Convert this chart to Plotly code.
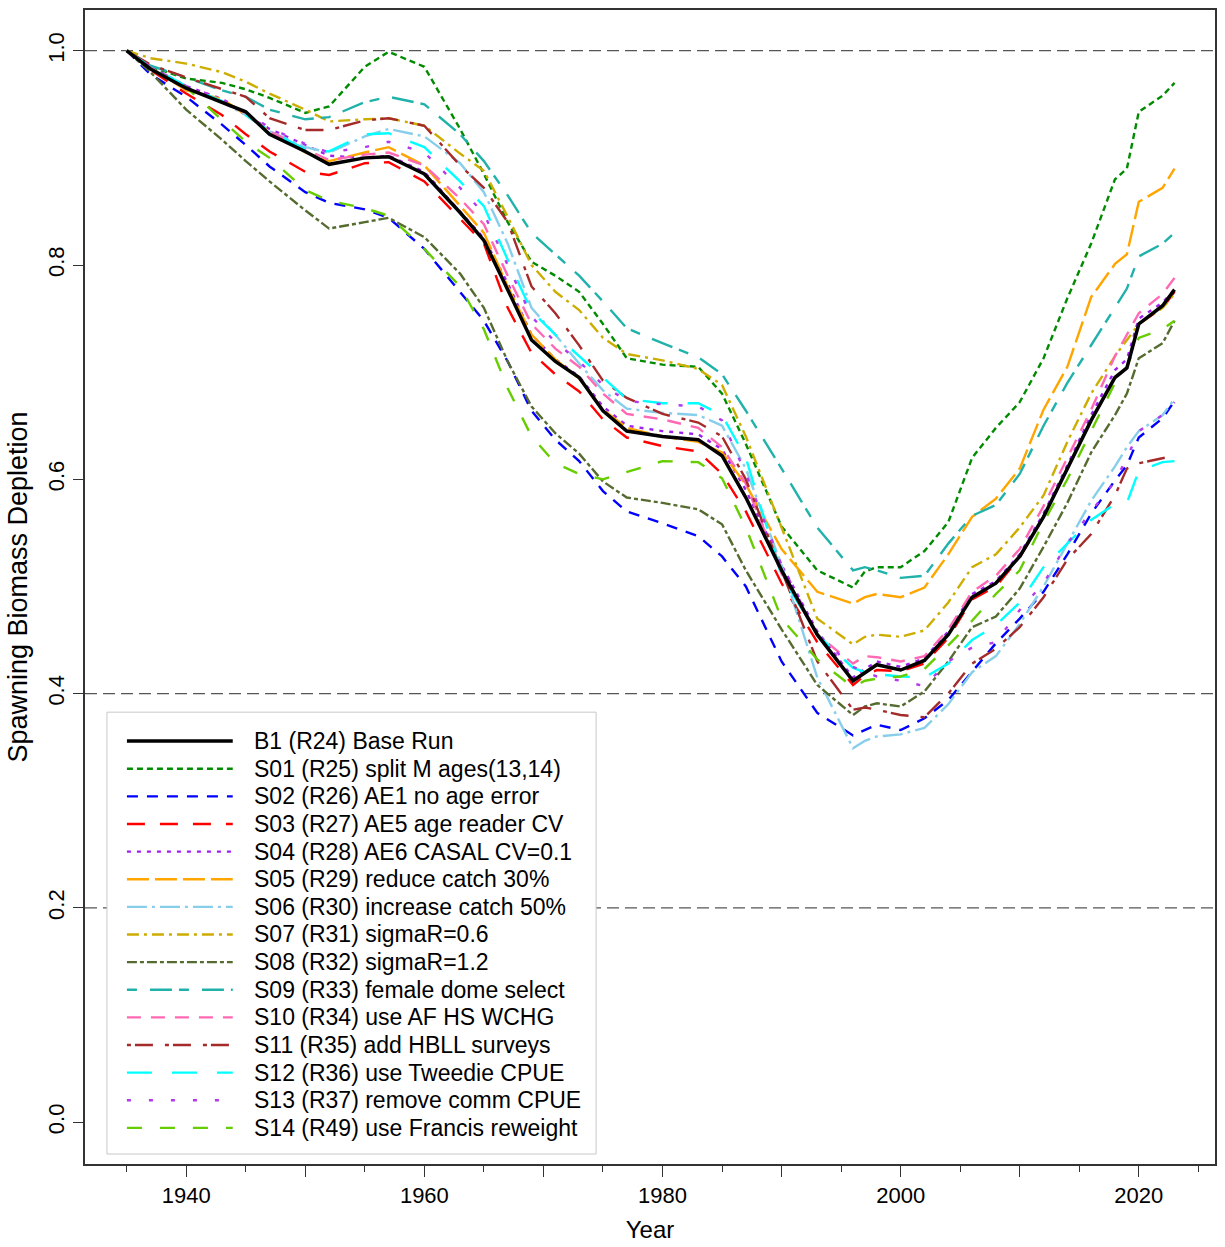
import plotly.graph_objects as go

# Assessment years at which each run's trajectory is plotted
years = [1935, 1937, 1940, 1943, 1945, 1947, 1950, 1952, 1955, 1957,
         1960, 1963, 1965, 1967, 1969, 1971, 1973, 1975, 1977, 1980,
         1983, 1985, 1987, 1990, 1993, 1996, 1997, 1998, 2000, 2002,
         2004, 2006, 2008, 2010, 2012, 2014, 2016, 2018, 2019, 2020,
         2022, 2023]

b1 = [1.000, 0.983, 0.965, 0.952, 0.943, 0.922, 0.906, 0.894, 0.900, 0.901,
      0.885, 0.849, 0.823, 0.777, 0.730, 0.710, 0.695, 0.664, 0.645, 0.640,
      0.637, 0.622, 0.583, 0.515, 0.455, 0.412, 0.420, 0.427, 0.422, 0.431,
      0.455, 0.490, 0.503, 0.528, 0.565, 0.610, 0.655, 0.695, 0.704, 0.745,
      0.762, 0.777]
s01 = [1.000, 0.985, 0.974, 0.970, 0.964, 0.956, 0.942, 0.948, 0.985, 0.999,
       0.985, 0.927, 0.885, 0.840, 0.803, 0.790, 0.775, 0.745, 0.713, 0.707,
       0.705, 0.680, 0.633, 0.556, 0.515, 0.499, 0.514, 0.518, 0.518, 0.533,
       0.560, 0.620, 0.648, 0.672, 0.713, 0.769, 0.820, 0.880, 0.890, 0.943,
       0.958, 0.970]
s02 = [1.000, 0.978, 0.957, 0.931, 0.912, 0.892, 0.868, 0.858, 0.852, 0.844,
       0.815, 0.775, 0.748, 0.710, 0.664, 0.637, 0.617, 0.589, 0.570, 0.559,
       0.547, 0.528, 0.500, 0.430, 0.382, 0.361, 0.366, 0.371, 0.366, 0.377,
       0.394, 0.420, 0.447, 0.470, 0.495, 0.530, 0.568, 0.599, 0.613, 0.639,
       0.657, 0.673]
s03 = [1.000, 0.982, 0.960, 0.940, 0.922, 0.906, 0.887, 0.884, 0.895, 0.896,
       0.878, 0.843, 0.820, 0.760, 0.718, 0.698, 0.682, 0.656, 0.639, 0.631,
       0.626, 0.605, 0.570, 0.503, 0.448, 0.408, 0.417, 0.422, 0.421, 0.428,
       0.452, 0.488, 0.500, 0.527, 0.565, 0.610, 0.655, 0.695, 0.704, 0.745,
       0.760, 0.775]
s04 = [1.000, 0.985, 0.967, 0.955, 0.940, 0.927, 0.912, 0.902, 0.900, 0.902,
       0.887, 0.850, 0.825, 0.783, 0.735, 0.712, 0.696, 0.668, 0.650, 0.645,
       0.642, 0.628, 0.590, 0.520, 0.458, 0.415, 0.423, 0.430, 0.425, 0.433,
       0.458, 0.493, 0.505, 0.530, 0.568, 0.613, 0.660, 0.702, 0.712, 0.750,
       0.765, 0.777]
s05 = [1.000, 0.984, 0.963, 0.955, 0.940, 0.925, 0.905, 0.897, 0.905, 0.910,
       0.893, 0.855, 0.830, 0.780, 0.735, 0.712, 0.694, 0.665, 0.648, 0.640,
       0.635, 0.625, 0.595, 0.535, 0.495, 0.484, 0.490, 0.493, 0.490, 0.499,
       0.530, 0.565, 0.582, 0.610, 0.665, 0.705, 0.770, 0.801, 0.810, 0.859,
       0.872, 0.890]
s06 = [1.000, 0.984, 0.965, 0.952, 0.940, 0.925, 0.910, 0.905, 0.920, 0.927,
       0.920, 0.895, 0.868, 0.820, 0.760, 0.735, 0.708, 0.683, 0.666, 0.662,
       0.660, 0.650, 0.610, 0.520, 0.415, 0.349, 0.356, 0.360, 0.362, 0.368,
       0.390, 0.420, 0.435, 0.465, 0.500, 0.540, 0.580, 0.612, 0.630, 0.645,
       0.660, 0.675]
s07 = [1.000, 0.993, 0.988, 0.980, 0.971, 0.960, 0.945, 0.934, 0.936, 0.937,
       0.930, 0.904, 0.888, 0.845, 0.800, 0.775, 0.758, 0.732, 0.717, 0.711,
       0.703, 0.688, 0.640, 0.555, 0.470, 0.446, 0.453, 0.455, 0.453, 0.459,
       0.485, 0.518, 0.530, 0.555, 0.585, 0.635, 0.680, 0.715, 0.730, 0.745,
       0.760, 0.773]
s08 = [1.000, 0.980, 0.945, 0.917, 0.897, 0.878, 0.851, 0.834, 0.840, 0.844,
       0.826, 0.792, 0.760, 0.710, 0.668, 0.643, 0.624, 0.598, 0.583, 0.578,
       0.572, 0.558, 0.515, 0.460, 0.408, 0.380, 0.388, 0.391, 0.388, 0.402,
       0.430, 0.462, 0.472, 0.498, 0.537, 0.578, 0.625, 0.660, 0.680, 0.713,
       0.727, 0.748]
s09 = [1.000, 0.986, 0.975, 0.963, 0.957, 0.945, 0.936, 0.938, 0.952, 0.957,
       0.950, 0.922, 0.897, 0.865, 0.830, 0.810, 0.790, 0.766, 0.741, 0.727,
       0.714, 0.698, 0.664, 0.610, 0.555, 0.515, 0.518, 0.515, 0.508, 0.510,
       0.540, 0.566, 0.576, 0.605, 0.650, 0.690, 0.725, 0.760, 0.778, 0.808,
       0.820, 0.830]
s10 = [1.000, 0.984, 0.965, 0.953, 0.942, 0.925, 0.908, 0.898, 0.903, 0.905,
       0.893, 0.862, 0.838, 0.790, 0.745, 0.722, 0.705, 0.680, 0.661, 0.656,
       0.648, 0.630, 0.596, 0.512, 0.455, 0.428, 0.435, 0.434, 0.430, 0.435,
       0.460, 0.495, 0.510, 0.535, 0.575, 0.620, 0.665, 0.715, 0.735, 0.755,
       0.773, 0.788]
s11 = [1.000, 0.987, 0.975, 0.964, 0.957, 0.937, 0.926, 0.926, 0.935, 0.937,
       0.930, 0.893, 0.872, 0.840, 0.780, 0.755, 0.725, 0.692, 0.676, 0.661,
       0.653, 0.640, 0.600, 0.515, 0.430, 0.385, 0.387, 0.385, 0.380, 0.378,
       0.400, 0.428, 0.442, 0.462, 0.490, 0.525, 0.549, 0.585, 0.610, 0.615,
       0.620, 0.622]
s12 = [1.000, 0.985, 0.967, 0.953, 0.940, 0.925, 0.908, 0.906, 0.922, 0.923,
       0.910, 0.878, 0.855, 0.805, 0.757, 0.735, 0.715, 0.695, 0.675, 0.671,
       0.671, 0.660, 0.620, 0.510, 0.455, 0.424, 0.420, 0.418, 0.416, 0.415,
       0.428, 0.450, 0.464, 0.485, 0.518, 0.540, 0.562, 0.577, 0.578, 0.608,
       0.616, 0.617]
s13 = [1.000, 0.985, 0.967, 0.955, 0.943, 0.928, 0.913, 0.905, 0.910, 0.915,
       0.905, 0.872, 0.848, 0.800, 0.752, 0.728, 0.710, 0.688, 0.673, 0.670,
       0.668, 0.655, 0.605, 0.520, 0.455, 0.425, 0.420, 0.416, 0.412, 0.407,
       0.430, 0.443, 0.448, 0.478, 0.503, 0.540, 0.570, 0.598, 0.620, 0.645,
       0.660, 0.672]
s14 = [1.000, 0.983, 0.966, 0.935, 0.915, 0.900, 0.870, 0.860, 0.853, 0.846,
       0.815, 0.780, 0.740, 0.685, 0.640, 0.615, 0.605, 0.600, 0.607, 0.617,
       0.616, 0.601, 0.555, 0.470, 0.432, 0.406, 0.412, 0.414, 0.416, 0.423,
       0.445, 0.468, 0.493, 0.515, 0.560, 0.600, 0.645, 0.690, 0.705, 0.732,
       0.740, 0.748]

run_labels = [
    "S01 (R25) split M ages(13,14)",
    "S02 (R26) AE1 no age error",
    "S03 (R27) AE5 age reader CV",
    "S04 (R28) AE6 CASAL CV=0.1",
    "S05 (R29) reduce catch 30%",
    "S06 (R30) increase catch 50%",
    "S07 (R31) sigmaR=0.6",
    "S08 (R32) sigmaR=1.2",
    "S09 (R33) female dome select",
    "S10 (R34) use AF HS WCHG",
    "S11 (R35) add HBLL surveys",
    "S12 (R36) use Tweedie CPUE",
    "S13 (R37) remove comm CPUE",
    "S14 (R49) use Francis reweight",
]
base_label = "B1 (R24) Base Run"
ref_levels = [1.0, 0.4, 0.2]

sens_values = [s01, s02, s03, s04, s05, s06, s07, s08, s09, s10, s11, s12, s13, s14]
sens_colors = ["#008B00", "#0000FF", "#FF0000", "#A020F0", "#FFA500", "#87CEEB",
               "#CDAD00", "#556B2F", "#20B2AA", "#FF69B4", "#A52A2A", "#00FFFF",
               "#B23AEE", "#66CD00"]
sens_dashes = ["6px,4px", "11px,9px", "18px,15px", "4px,6px", "22px,6px",
               "20px,5px,3px,5px", "12px,5px,3px,5px", "10px,3px,4px,3px",
               "10px,13px,22px,7px", "14px,10px", "4px,4px,18px,12px", "25px,20px",
               "4px,18px", "15px,18px"]

# Plot-area geometry in pixels (used to place the legend panel)
W, H = 1225, 1247
ML, MR, MT, MB = 85, 8, 8, 82
PW, PH = W - ML - MR, H - MT - MB


def px_x(px):
    return (px - ML) / PW


def px_y(py):
    return (H - MB - py) / PH


fig = go.Figure()

for i, vals in enumerate(sens_values):
    fig.add_trace(go.Scatter(
        x=years, y=vals, mode="lines", name=run_labels[i], showlegend=False,
        line=dict(color=sens_colors[i], width=2.4, dash=sens_dashes[i]),
    ))

fig.add_trace(go.Scatter(
    x=years, y=b1, mode="lines", name=base_label, showlegend=False,
    line=dict(color="#000000", width=3.5),
))

for lvl in ref_levels:
    fig.add_shape(type="line", xref="paper", x0=0, x1=1, yref="y", y0=lvl, y1=lvl,
                  line=dict(color="#555555", width=1.2, dash="12px,6px"), layer="below")

font_family = "Liberation Sans, Arial, sans-serif"

# Legend panel: white box, line samples and labels
fig.add_shape(type="rect", xref="paper", yref="paper",
              x0=px_x(107), x1=px_x(597), y0=px_y(1155), y1=px_y(712),
              fillcolor="white", line=dict(color="#C8C8C8", width=1), layer="above")

leg_labels = [base_label] + run_labels
leg_colors = ["#000000"] + sens_colors
leg_dashes = ["solid"] + sens_dashes
leg_widths = [3.5] + [2.4] * len(run_labels)
row0, row_step = 741, 27.7
for k, lab in enumerate(leg_labels):
    yy = px_y(row0 + row_step * k)
    fig.add_shape(type="line", xref="paper", yref="paper",
                  x0=px_x(127), x1=px_x(233), y0=yy, y1=yy,
                  line=dict(color=leg_colors[k], width=leg_widths[k], dash=leg_dashes[k]),
                  layer="above")
    fig.add_annotation(xref="paper", yref="paper", x=px_x(252), y=yy,
                       xanchor="left", yanchor="middle", showarrow=False,
                       text=lab, font=dict(size=23, family=font_family, color="#000000"))

fig.update_layout(
    width=W, height=H,
    margin=dict(l=ML, r=MR, t=MT, b=MB),
    paper_bgcolor="white", plot_bgcolor="white",
    font=dict(family=font_family, color="#000000"),
    showlegend=False,
    xaxis=dict(
        range=[1931.5, 2026.4], showgrid=False, zeroline=False,
        showline=True, linecolor="#333333", linewidth=1.5, mirror=True,
        ticks="outside", ticklen=11, tickcolor="#333333", tickwidth=1,
        tickvals=list(range(1940, 2030, 10)),
        ticktext=["1940", "", "1960", "", "1980", "", "2000", "", "2020"],
        tickfont=dict(size=22),
        minor=dict(tickvals=list(range(1935, 2030, 10)), ticks="outside",
                   ticklen=6, tickcolor="#333333"),
        title=dict(text="Year", font=dict(size=24), standoff=14),
    ),
    yaxis=dict(
        range=[-0.039, 1.038], showgrid=False, zeroline=False,
        showline=True, linecolor="#333333", linewidth=1.5, mirror=True,
        ticks="outside", ticklen=10, tickcolor="#333333",
        tickvals=[0.0, 0.2, 0.4, 0.6, 0.8, 1.0],
        ticktext=["0.0", "0.2", "0.4", "0.6", "0.8", "1.0"],
        tickangle=-90, tickfont=dict(size=22),
        title=dict(text="Spawning Biomass Depletion", font=dict(size=27), standoff=9),
    ),
)

fig.write_html("out.html")
